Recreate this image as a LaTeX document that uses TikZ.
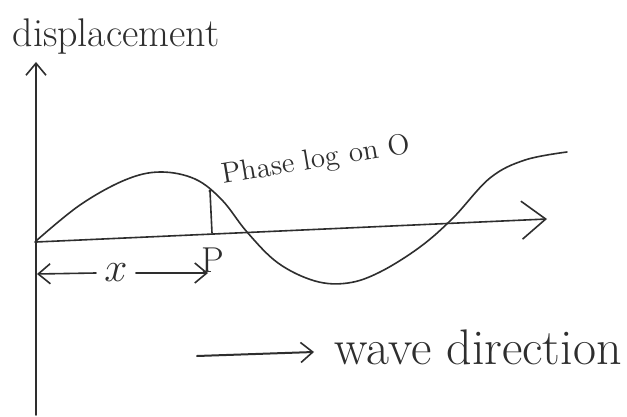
\documentclass[tikz,border=0pt]{standalone}
\usetikzlibrary{arrows.meta}
\begin{document}
\begin{tikzpicture}[x=0.5pt,y=-0.5pt,
  ink/.style={draw=black!82, line width=0.8pt, line cap=round, line join=round},
  bigbarb/.style={-{Straight Barb[length=12pt,width=19pt,line width=0.8pt]}},
  smallbarb/.style={-{Straight Barb[length=6pt,width=10pt,line width=0.8pt]}},
  lbl/.style={text=black!82, inner sep=0pt}]
\useasboundingbox (0,0) rectangle (627,417);
\fill[white] (0,0) rectangle (627,417);
% axes
\coordinate (O) at (36,242);
\coordinate (ybot) at (36,415);
\coordinate (ytop) at (36,62);
\coordinate (xend) at (547,219);
\draw[ink, smallbarb] (ybot) -- (ytop);
\draw[ink, bigbarb] (O) -- (xend);
\node[lbl, font=\fontsize{20}{22}\selectfont] (disp) at (116,37) {displacement};
% wave
\draw[ink] plot[smooth, tension=0.6] coordinates {
 (36,241) (80,205) (125,180) (160,172) (195,179) (222,200) (247,232)
 (278,263) (315,281) (348,283) (380,272) (420,247) (453,218)
 (490,178) (525,160) (567,152)};
% point P
\coordinate (Ptop) at (210,191);
\coordinate (Pbot) at (212,233);
\draw[ink] (Ptop) -- (Pbot);
\fill[black!82] (Ptop) circle (1.6);
\fill[black!82] (O) circle (1.8);
\node[lbl, font=\fontsize{18}{20}\selectfont] (P) at (213,260) {P};
% x distance
\node[lbl, font=\fontsize{20}{22}\selectfont] (x) at (116,273) {$x$};
\coordinate (xl) at (37,274);
\coordinate (xr) at (208,273);
\draw[ink, smallbarb] (x.west) ++(-8,0) -- (xl);
\draw[ink, smallbarb] (x.east) ++(8,0) -- (xr);
% phase label
\node[lbl, font=\fontsize{14.5}{16}\selectfont, rotate=9.5] (phase) at (316,161) {Phase log on O};
% wave direction
\coordinate (wa) at (197,356);
\coordinate (wb) at (314,352);
\draw[ink, line width=1pt, smallbarb] (wa) -- (wb);
\node[lbl, font=\fontsize{25}{27}\selectfont, anchor=west] (wd) at (334,347) {wave direction};
\end{tikzpicture}
\end{document}
